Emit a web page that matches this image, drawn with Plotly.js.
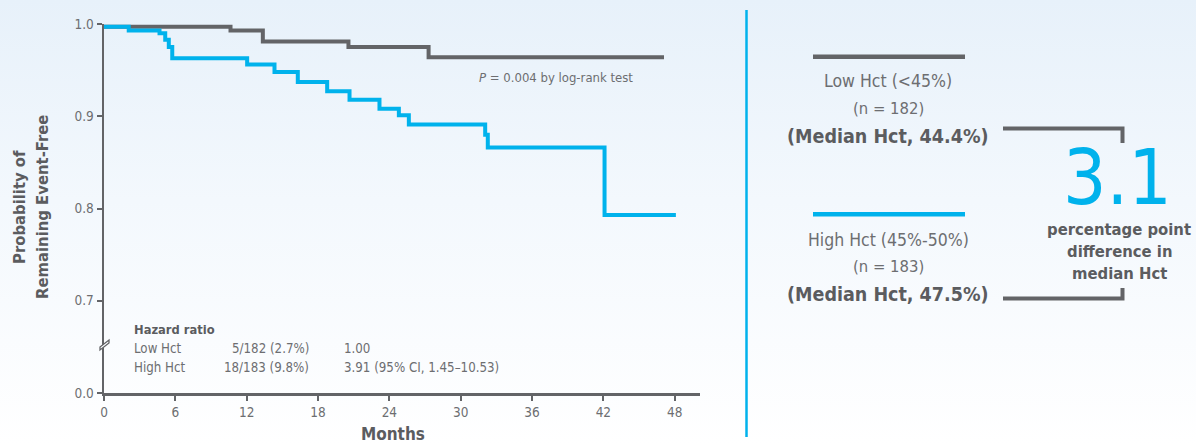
<!DOCTYPE html>
<html>
<head>
<meta charset="utf-8">
<script src="https://cdn.plot.ly/plotly-3.0.1.min.js"></script>
<style>
  html, body { margin:0; padding:0; width:1196px; height:445px; overflow:hidden;
    background: linear-gradient(to bottom, #e7f1fa 0%, #f3f8fd 45%, #ffffff 100%); }
  #chart { width:1196px; height:445px; }
</style>
</head>
<body>
<div id="chart"></div>
<script>
// ---- data ----
const lowMonths  = [0, 10.64, 13.36, 20.56, 27.3, 47.1];
const lowSurv    = [0.997, 0.993, 0.981, 0.975, 0.964, 0.964];
const highMonths = [0, 2.08, 4.67, 5.15, 5.45, 5.74, 12.04, 14.34, 16.3, 18.77, 20.65, 23.17, 24.8, 25.64, 32.06, 32.28, 42.1, 48.1];
const highSurv   = [0.997, 0.993, 0.990, 0.983, 0.975, 0.963, 0.956, 0.948, 0.937, 0.927, 0.918, 0.908, 0.901, 0.891, 0.880, 0.866, 0.793, 0.793];

const xTickVals   = [0, 6, 12, 18, 24, 30, 36, 42, 48];
const yTickValues = [0.0, 0.7, 0.8, 0.9, 1.0];
const yTickLabels = ['0.0', '0.7', '0.8', '0.9', '1.0'];

const hrGroups = ['Low Hct', 'High Hct'];
const hrEvents = ['5/182 (2.7%)', '18/183 (9.8%)'];
const hrValues = ['1.00', '3.91 (95% CI, 1.45–10.53)'];

const groupLabels = ['Low Hct (<45%)', 'High Hct (45%-50%)'];
const groupN = [182, 183];
const groupMedian = [44.4, 47.5];

// ---- styles ----
const BLUE = '#00b2ec';
const GRAY = '#636467';
const TXT = '#6d6e71';
const BOLD = '#5b5c5f';
const FONT = '"Liberation Sans Narrow", "DejaVu Sans Condensed", "Roboto Condensed", "Arial Narrow", sans-serif';

// axis break: values below 0.7 are compressed into the 0.6-0.7 band
function mapY(v) { return v >= 0.7 ? v : 0.6 + (v / 0.7) * 0.1; }

const L = 104, R = 496, T = 24, B = 52, W = 1196, H = 445;
const PW = W - L - R, PH = H - T - B;
const PX = x => (x - L) / PW;
const PY = y => (H - B - y) / PH;

const traces = [
  { x: lowMonths, y: lowSurv.map(mapY), type: 'scatter', mode: 'lines',
    line: { shape: 'hv', color: GRAY, width: 4 }, hoverinfo: 'skip' },
  { x: highMonths, y: highSurv.map(mapY), type: 'scatter', mode: 'lines',
    line: { shape: 'hv', color: BLUE, width: 4 }, hoverinfo: 'skip' }
];

const ann = [];
function txt(text, x, y, size, opts) {
  ann.push(Object.assign({ text: text, xref: 'paper', yref: 'paper', x: PX(x), y: PY(y),
    showarrow: false, xanchor: 'center', yanchor: 'middle',
    font: { family: FONT, size: size, color: TXT } }, opts || {}));
}
const boldFont = s => ({ font: { family: FONT, size: s, color: BOLD } });

// axis titles
txt('<b>Months</b>', 393, 434, 17, boldFont(17));
txt('<b>Probability of</b>', 19, 207, 16.5, Object.assign({ textangle: -90 }, boldFont(16.5)));
txt('<b>Remaining Event-Free</b>', 42, 207, 16.5, Object.assign({ textangle: -90 }, boldFont(16.5)));

// p value
txt('<i>P</i> = 0.004 by log-rank test', 477, 77, 13, { xanchor: 'left' });

// hazard ratio table
txt('<b>Hazard ratio</b>', 132, 329, 12.8, Object.assign({ xanchor: 'left' }, boldFont(12.8)));
hrGroups.forEach((g, i) => {
  const y = 348 + i * 19.6;
  txt(g, 132, y, 13.2, { xanchor: 'left' });
  txt(hrEvents[i], 311, y, 13.2, { xanchor: 'right' });
  txt(hrValues[i], 342, y, 13.2, { xanchor: 'left' });
});

// right panel legend blocks
const blockTop = [81, 239.5];
groupLabels.forEach((g, i) => {
  const y0 = blockTop[i];
  txt(g, 888, y0, 17.5);
  txt('(n = ' + groupN[i] + ')', 888, y0 + 27, 16.5);
  txt('<b>(Median Hct, ' + groupMedian[i].toFixed(1) + '%)</b>', 888, y0 + 55, 19.5, boldFont(19.5));
});

const diff = (groupMedian[1] - groupMedian[0]).toFixed(1);
txt(diff, 1117, 177, 76, { font: { family: FONT, size: 76, color: BLUE } });
['percentage point', 'difference in', 'median Hct'].forEach((s, i) => {
  txt('<b>' + s + '</b>', 1119, 230 + i * 21.7, 16.5, boldFont(16.5));
});

const shapes = [];
function seg(x0, y0, x1, y1, color, width) {
  shapes.push({ type: 'line', xref: 'paper', yref: 'paper', x0: PX(x0), y0: PY(y0), x1: PX(x1), y1: PY(y1),
    line: { color: color, width: width } });
}
// divider
seg(746.5, 10, 746.5, 437, BLUE, 2.5);
// legend lines
seg(813, 56.7, 965, 56.7, GRAY, 4.5);
seg(813, 214.3, 965, 214.3, BLUE, 4.5);
// brackets
shapes.push({ type: 'path', xref: 'paper', yref: 'paper',
  path: `M ${PX(1003)} ${PY(128.5)} L ${PX(1122.5)} ${PY(128.5)} L ${PX(1122.5)} ${PY(143)}`,
  line: { color: GRAY, width: 4 } });
shapes.push({ type: 'path', xref: 'paper', yref: 'paper',
  path: `M ${PX(1003)} ${PY(298.5)} L ${PX(1122.5)} ${PY(298.5)} L ${PX(1122.5)} ${PY(288)}`,
  line: { color: GRAY, width: 4 } });
// axis break mark
shapes.push({ type: 'path', xref: 'paper', yref: 'paper',
  path: `M ${PX(100)} ${PY(347)} L ${PX(109)} ${PY(340)} L ${PX(109)} ${PY(343)} L ${PX(100)} ${PY(350)} Z`,
  fillcolor: '#fbfdff', line: { color: GRAY, width: 1.3 } });

const layout = {
  width: W, height: H,
  margin: { l: L, r: R, t: T, b: B, pad: 0 },
  paper_bgcolor: 'rgba(0,0,0,0)', plot_bgcolor: 'rgba(0,0,0,0)',
  showlegend: false,
  font: { family: FONT, color: TXT },
  xaxis: { range: [0, PW / ((674.7 - 104) / 48)], tickvals: xTickVals, ticks: 'outside', ticklen: 5,
    tickwidth: 2, tickcolor: GRAY, showline: true, linecolor: GRAY, linewidth: 2.5,
    showgrid: false, zeroline: false, tickfont: { family: FONT, size: 13.5, color: TXT } },
  yaxis: { range: [0.6, 1.0], tickvals: yTickValues.map(mapY), ticktext: yTickLabels, ticks: 'outside',
    ticklen: 5, tickwidth: 2, tickcolor: GRAY, showline: true, linecolor: GRAY, linewidth: 2.5,
    showgrid: false, zeroline: false, tickfont: { family: FONT, size: 13.5, color: TXT } },
  annotations: ann,
  shapes: shapes
};

Plotly.newPlot('chart', traces, layout, { staticPlot: true, displayModeBar: false });
</script>
</body>
</html>
